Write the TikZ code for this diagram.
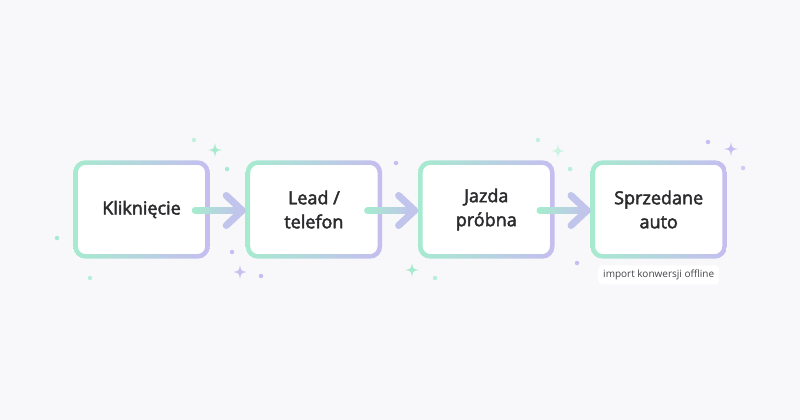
\documentclass[tikz,border=0pt]{standalone}
\usepackage{fontspec}
\setmainfont{Open Sans}
\newfontfamily\stagefont{Open Sans}[FakeBold=2.5]
\usetikzlibrary{calc,positioning,backgrounds}
\definecolor{bg}{HTML}{F8F8FB}
\definecolor{mint}{HTML}{A6EBCF}
\definecolor{lav}{HTML}{C6BDF0}
\definecolor{ink}{HTML}{2B2B2E}
\definecolor{inkm}{HTML}{45454B}
\tikzset{
  stage/.style={rounded corners=10pt, fill=white, minimum width=131pt, minimum height=93pt,
    inner sep=0pt, align=center, text=ink, font=\fontsize{18}{24}\stagefont},
  shaft/.style={line width=7pt, line cap=round},
  chevron/.style={draw=lav!85!mint, line width=7pt, line cap=round, line join=round},
  notebox/.style={fill=white, rounded corners=4pt, inner xsep=5pt, inner ysep=4.5pt,
    text=inkm, font=\fontsize{10}{12}\selectfont},
  pics/twinkle/.style={code={
    \fill[#1] (0,7pt) .. controls (1pt,1pt) .. (7pt,0) .. controls (1pt,-1pt) .. (0,-7pt)
      .. controls (-1pt,-1pt) .. (-7pt,0) .. controls (-1pt,1pt) .. (0,7pt) -- cycle;}},
  speck/.style={circle, inner sep=0pt, minimum size=4.5pt}
}
\begin{document}
\begin{tikzpicture}[x=1pt,y=-1pt]
  \fill[bg] (0,0) rectangle (800,420);
  \useasboundingbox (0,0) rectangle (800,420);

  % stages
  \node[stage] (k1) at (141.5,209.5) {Kliknięcie};
  \node[stage, right=41pt of k1] (k2) {Lead /\\telefon};
  \node[stage, right=41pt of k2] (k3) {Jazda\\próbna};
  \node[stage, right=41pt of k3] (k4) {Sprzedane\\auto};

  \foreach \k in {k1,k2,k3,k4} {
    \begin{pgfonlayer}{background}
      \foreach \g in {1,...,6}
        \shade[left color=mint, right color=lav, opacity=0.1, rounded corners=12pt+\g*2pt]
          ($(\k.south west)+(-2pt-\g*2.5pt,-2pt-\g*3.5pt)$) rectangle ($(\k.north east)+(2pt+\g*2.5pt,2pt+\g*2pt)$);
    \end{pgfonlayer}
    \shade[left color=mint, right color=lav, even odd rule, rounded corners=12pt]
      ($(\k.south west)+(-2.5pt,-2.5pt)$) rectangle ($(\k.north east)+(2.5pt,2.5pt)$)
      [rounded corners=8pt] ($(\k.south west)+(2pt,2pt)$) rectangle ($(\k.north east)+(-2pt,-2pt)$);
  }

  % arrows
  \foreach \a/\b in {k1/k2,k2/k3,k3/k4} {
    \coordinate (s) at ([xshift=-12pt,yshift=-1pt]\a.east);
    \coordinate (t) at ([xshift=-6pt,yshift=-1pt]\b.west);
    \foreach \i in {0,...,9} {
      \pgfmathtruncatemacro\mix{100-\i*9}
      \draw[shaft, draw=mint!\mix!lav] ($(s)!\i/10!(t)$) -- ($(s)!\i/10+0.1!(t)$);
    }
    \draw[chevron] ($(t)+(-16pt,15pt)$) -- (t) -- ($(t)+(-16pt,-15pt)$);
  }

  % note
  \node[notebox, below=9pt of k4] (note) {import konwersji offline};
  \begin{pgfonlayer}{background}
    \foreach \g in {1,2,3}
      \fill[black, opacity=0.025, rounded corners=4pt+\g*1pt]
        ($(note.south west)+(-\g*1pt,-\g*1.5pt)$) rectangle ($(note.north east)+(\g*1pt,\g*0.5pt)$);
  \end{pgfonlayer}

  % sparkles
  \pic at (215,150) {twinkle=mint};
  \pic at (240,272) {twinkle=lav};
  \pic at (412,270) {twinkle=mint};
  \pic at (558,151) {twinkle=mint!60};
  \pic at (731,149) {twinkle=lav};
  \foreach \x/\y/\c in {194/140/mint!70, 227/169/mint, 57/238/mint, 90/278/mint!80,
      232/252/lav, 261/276/lav, 396/163/lav, 435/278/mint!80, 538/140/mint!70,
      570/169/mint!80, 577/263/lav, 708/142/lav, 743/168/lav!80}
    \node[speck, fill=\c] at (\x,\y) {};
\end{tikzpicture}
\end{document}
